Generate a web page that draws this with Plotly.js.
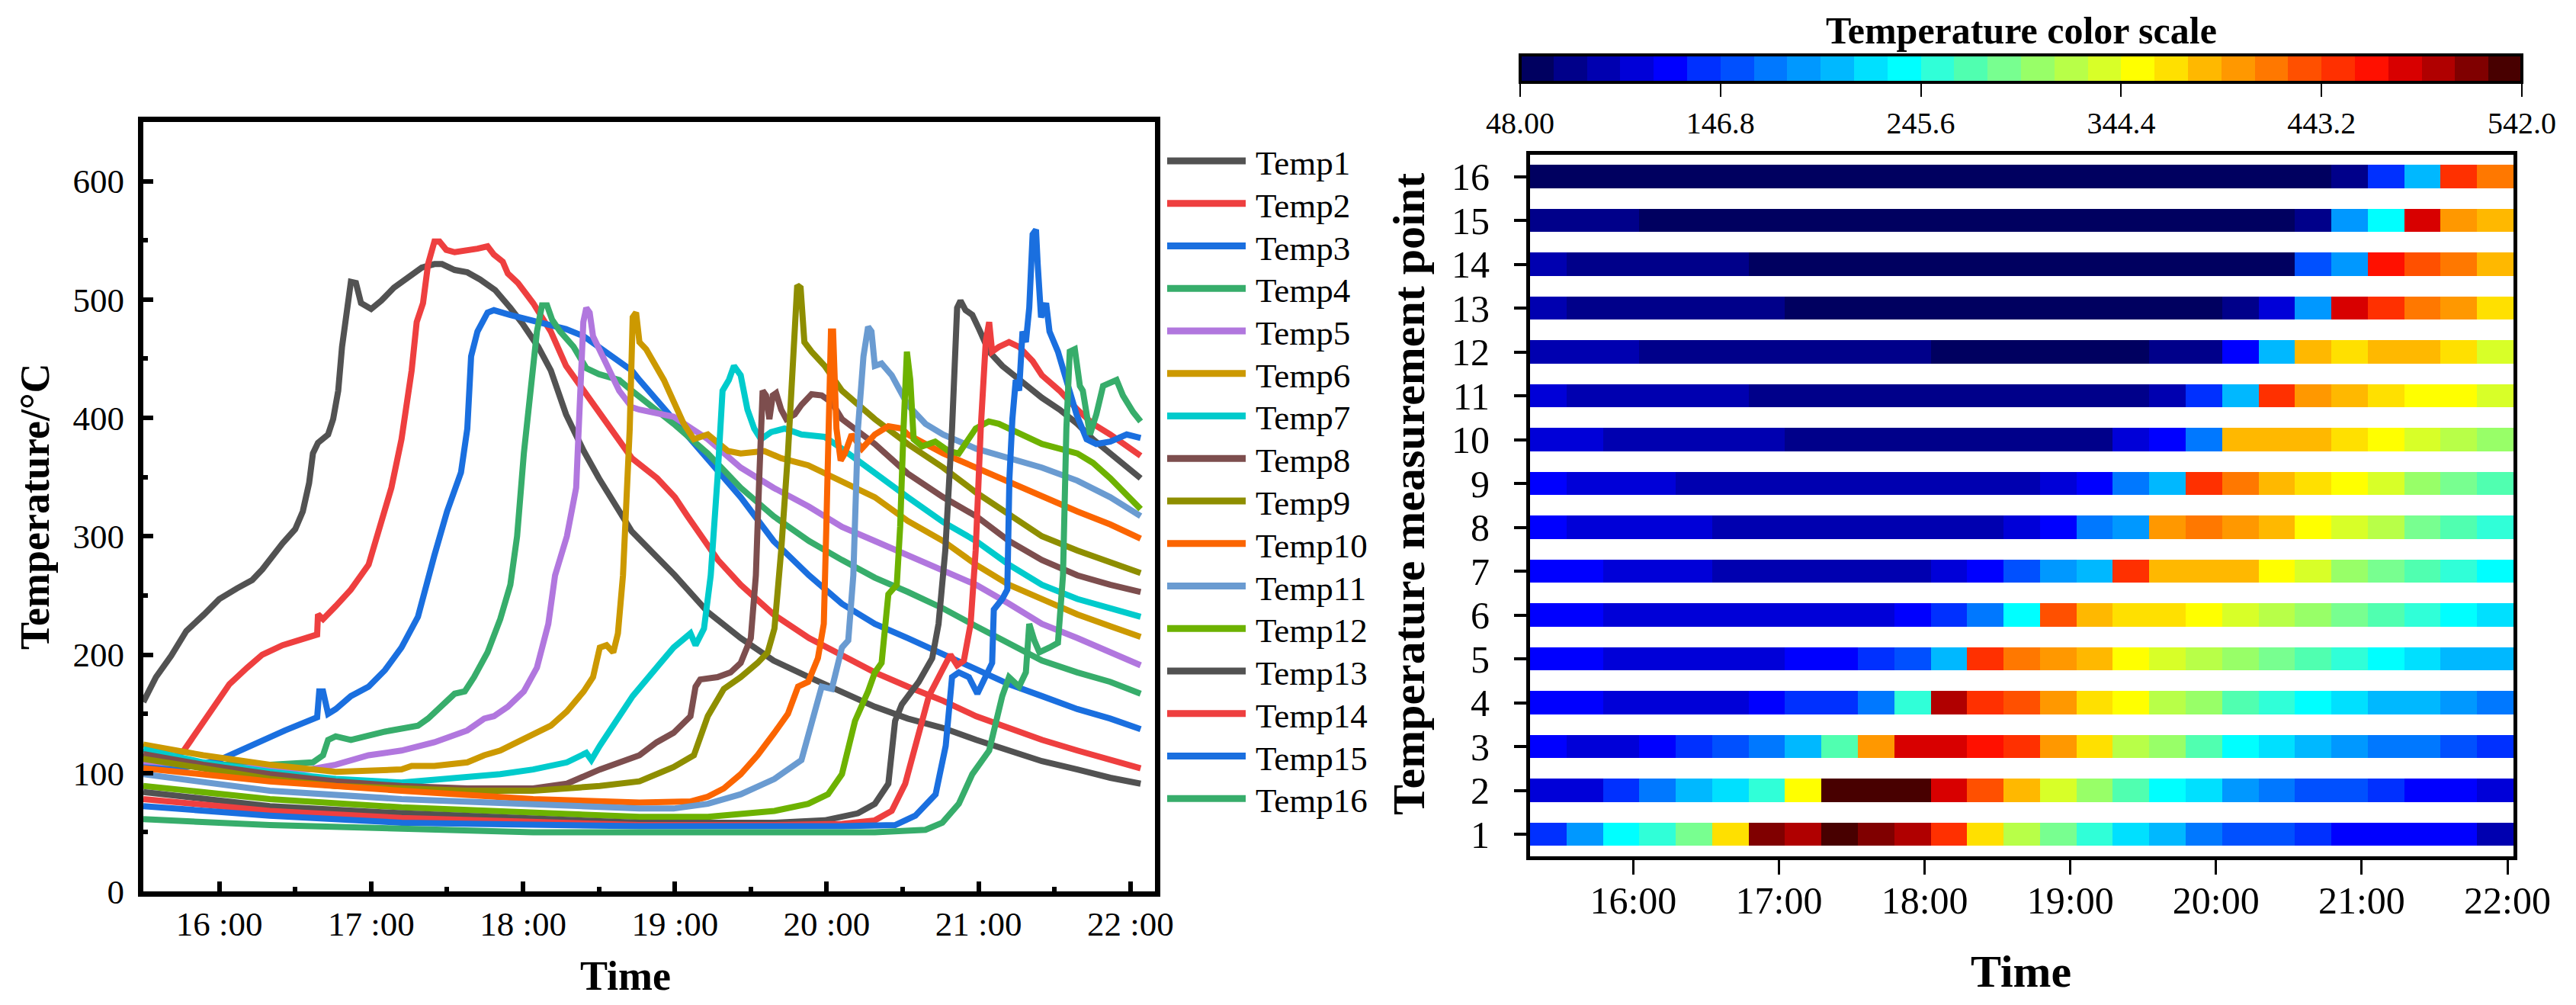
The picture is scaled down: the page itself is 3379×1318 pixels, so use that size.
<!DOCTYPE html>
<html>
<head>
<meta charset="utf-8">
<script src="https://cdn.plot.ly/plotly-3.0.1.min.js"></script>
<style>
html, body { margin: 0; padding: 0; background: #fff; }
#graph { width: 3379px; height: 1318px; }
</style>
</head>
<body>
<div id="graph"></div>
<script>
// ---- line chart data ----
const names = ['Temp1','Temp2','Temp3','Temp4','Temp5','Temp6','Temp7','Temp8',
               'Temp9','Temp10','Temp11','Temp12','Temp13','Temp14','Temp15','Temp16'];
const colors = ['#525252','#EE3F3F','#1A6FDF','#37AD6B','#B177DE','#CC9900','#00CBCC','#7D4E4E',
                '#8E8E00','#FB6501','#6A9BD1','#6DB200','#525252','#EE3F3F','#1A6FDF','#37AD6B'];

const t1 = ['15:30','15:35','15:41','15:47','15:54','16:00','16:07','16:13','16:17','16:21','16:25','16:30','16:33','16:35:30','16:37','16:39','16:43','16:45','16:47','16:48:30','16:50:30','16:52','16:54','16:56','17:00','17:04','17:09','17:15','17:20','17:25','17:28','17:33','17:38','17:43','17:49','17:55','18:00','18:06','18:11','18:17','18:24','18:30','18:38','18:43','19:00','19:13','19:26','19:39','19:53','20:06','20:19','20:32','20:46','20:59','21:12','21:25','21:39','21:52','22:04'];
const v1 = [160,181,199,220,234,247,256,263,272,284,294,306,321,345,370,379,386,399,423,460,495,515,514,497,492,499,510,520,527,530,530,525,523,517,508,493,479,460,440,403,372,349,321,304,267,236,214,195,181,169,156,146,138,128,119,110,103,96,91];

const t2 = ['15:30','15:40','15:46','15:51','15:58','16:04','16:11','16:17','16:25','16:33','16:38:40','16:39','16:41','16:46','16:52','16:59','17:04','17:08','17:12','17:16','17:18','17:20:30','17:22:30','17:25','17:27','17:29:40','17:33','17:38','17:42','17:46','17:48:30','17:52','17:54','17:58','18:04','18:11','18:17','18:24','18:33','18:43','18:53','19:00','19:05','19:17','19:26','19:39','19:53','20:06','20:19','20:32','20:46','20:59','21:12','21:25','21:39','21:52','22:04'];
const v2 = [100,108,119,134,156,175,189,200,208,214,217,234,230,241,255,276,312,341,382,440,481,497,530,549,549,542,540,541,543,545,538,532,522,514,497,473,444,423,395,366,349,333,317,280,259,234,214,200,185,173,161,148,138,128,119,111,104];

const t3 = ['15:30','15:45','16:00','16:13','16:26','16:38:40','16:39:30','16:41','16:43','16:46','16:52','16:59','17:05:30','17:12','17:18:30','17:25','17:30','17:35:30','17:38','17:39:30','17:42','17:46','17:48:30','17:55','18:04','18:17','18:24','18:30','18:37','18:43','18:46','18:59:30','19:13','19:26','19:39','19:53','20:06','20:19','20:32','20:46','20:59','21:12','21:25','21:39','21:52','22:04'];
const v3 = [105,104,111,124,136,147,169,169,150,154,165,173,187,206,232,284,321,354,391,452,473,489,491,487,482,475,469,460,450,440,432,399,366,333,296,267,243,226,214,200,187,175,165,154,146,137];

const t4 = ['15:30','16:00','16:20','16:37','16:41','16:43','16:46','16:52','17:05:30','17:18:30','17:22:30','17:27:40','17:33','17:37','17:40:40','17:46','17:51','17:55','17:57:40','18:00:20','18:03','18:05:30','18:07:30','18:09:30','18:11:30','18:14:40','18:20','18:25','18:30','18:38','18:43','18:59:30','19:13','19:26','19:39','19:53','20:06','20:19','20:32','20:46','20:59','21:12','21:25','21:39','21:52','22:04'];
const v4 = [112,107,107,109,115,128,131,128,135,140,146,156,167,169,181,202,230,259,300,370,419,473,495,495,483,473,460,442,437,432,423,395,370,341,317,296,280,265,253,239,224,210,195,185,177,167];

const t5 = ['15:30','16:00','16:35:30','16:46','16:59','17:12','17:25','17:38','17:44:40','17:48:30','17:54','18:00:20','18:05:30','18:10','18:12:40','18:17:20','18:21','18:22:30','18:23:50','18:25','18:26:20','18:27:40','18:33','18:38','18:43','18:46','18:59:30','19:13','19:26','19:39','19:53','20:06','20:19','20:32','20:46','20:59','21:12','21:25','21:39','21:52','22:04'];
const v5 = [110,105,103,107,115,119,126,136,146,148,156,169,189,226,267,300,341,432,481,493,489,469,444,423,409,407,401,382,358,341,325,308,296,284,271,259,243,226,214,202,191];

const t6 = ['15:30','15:53:40','16:20','16:46','17:12','17:16','17:25','17:38','17:44:40','17:51','17:57:40','18:04','18:11','18:17:20','18:24','18:27:40','18:30:20','18:33','18:35:40','18:37:30','18:39:30','18:40:50','18:42:10','18:43:20','18:44:40','18:46','18:48:40','18:55:40','18:59:30','19:03:30','19:07:30','19:13','19:21','19:26','19:35:20','19:42','19:52:40','20:06','20:19','20:32','20:46','20:59','21:12','21:25','21:39','21:52','22:04'];
const v6 = [124,115,107,101,103,106,106,109,115,119,126,132,140,152,169,181,206,208,202,218,267,329,391,485,489,464,458,432,413,395,382,386,372,370,372,366,360,347,333,313,296,276,259,247,234,224,215];

const t7 = ['15:30','15:53:40','16:20','16:46','17:12','17:38','17:51','18:04','18:17:20','18:25','18:27','18:30:20','18:37','18:43:20','18:54:20','18:59:30','19:06:10','19:08:10','19:11:30','19:14:10','19:16:50','19:18:50','19:21:20','19:23:20','19:26','19:28:40','19:31:20','19:34','19:38','19:43:20','19:50','19:59:10','20:06','20:19','20:32','20:46','20:59','21:12','21:25','21:39','21:52','22:04'];
const v7 = [120,109,101,95,92,96,99,103,109,117,111,123,144,165,193,206,218,208,222,267,349,423,432,444,436,407,391,382,388,391,386,384,374,353,333,312,296,276,259,247,239,232];

const t8 = ['15:30','15:53:40','16:20','16:46','17:12','17:38','18:04','18:17:20','18:30:20','18:46','18:52:50','18:59:30','19:06:10','19:08:10','19:10','19:16:50','19:22','19:26','19:30','19:32','19:33:20','19:34:40','19:36','19:37:20','19:38:40','19:40','19:42','19:44','19:47:20','19:50','19:54','19:58','20:02','20:06','20:19','20:32','20:46','20:59','21:12','21:25','21:39','21:52','22:04'];
const v8 = [116,107,99,93,89,87,87,91,103,115,126,134,148,173,179,181,185,193,214,267,349,423,419,399,419,421,407,399,403,411,420,419,413,399,378,353,333,317,296,280,267,259,253];

const t9 = ['15:30','15:53:40','16:20','16:46','17:12','17:38','18:04','18:30:20','18:46','18:59:30','19:07:30','19:13','19:19:20','19:26','19:32:40','19:36:40','19:39:20','19:42','19:44:40','19:47:20','19:48:20','19:49:40','19:51:10','19:54','19:59:10','20:06','20:19','20:32','20:46','20:59','21:12','21:25','21:39','21:52','22:04'];
const v9 = [112,104,95,89,87,85,85,89,93,105,115,148,171,181,193,202,222,288,370,473,512,510,464,456,444,423,399,378,358,337,319,300,288,278,269];

const t10 = ['15:30','16:20','17:12','18:04','18:46','19:06:10','19:13','19:19:20','19:26','19:32:40','19:39:20','19:44:40','19:48:40','19:52:40','19:56:30','19:58:50','19:59:50','20:00:50','20:01:40','20:02:30','20:03:50','20:05:30','20:07:10','20:09:50','20:13:50','20:19','20:24:20','20:29:40','20:32','20:46','20:59','21:12','21:25','21:39','21:52','22:04'];
const v10 = [104,93,85,78,75,76,80,87,99,115,134,150,173,177,197,226,308,411,473,473,391,364,370,386,374,386,393,391,386,370,358,345,333,321,310,298];

const t11 = ['15:30','16:20','17:12','18:04','18:46','18:59:30','19:13','19:26','19:39:20','19:50','19:54','19:58','20:02','20:06','20:08:30','20:10:30','20:12:20','20:14:30','20:16:20','20:17:40','20:19','20:21:40','20:25:40','20:29:40','20:32','20:39','20:46','20:59','21:12','21:25','21:39','21:52','22:04'];
const v11 = [99,85,78,73,70,70,74,82,95,111,140,173,171,206,212,267,391,452,477,473,444,446,436,419,411,395,386,374,366,358,347,333,317];

const t12 = ['15:30','16:20','17:12','18:04','18:46','19:13','19:26','19:39:20','19:52:40','20:00:30','20:06','20:11:10','20:16:20','20:19','20:21:40','20:24:20','20:27:40','20:29','20:30:20','20:31:40','20:33','20:34:20','20:37:40','20:42:50','20:48:10','20:52:10','20:58:50','21:04','21:08','21:12','21:25','21:39','21:45:10','21:52','22:04'];
const v12 = [89,78,71,66,63,63,65,68,74,82,99,144,169,185,193,251,259,308,391,456,432,382,376,380,372,370,391,397,395,391,378,370,362,349,323];

const t13 = ['15:30','16:20','17:12','18:04','18:46','19:39:20','19:59:10','20:12:20','20:19','20:24:20','20:27','20:29:40','20:36:20','20:41:40','20:44:10','20:46:50','20:49:30','20:51:30','20:52:50','20:54:50','20:57:30','21:00:10','21:04:10','21:09:20','21:18:40','21:25','21:32','21:39','21:45:10','21:52','22:04'];
const v13 = [84,72,66,62,58,58,60,66,74,91,144,158,177,197,226,288,391,493,499,491,487,475,456,444,427,417,407,395,382,370,349];

const t14 = ['15:30','16:20','17:12','18:04','18:46','19:39:20','20:06','20:19','20:25:40','20:31','20:36:20','20:40:20','20:45:40','20:48:50','20:51:30','20:54:10','20:56:50','20:58:50','21:00:50','21:02:50','21:04:10','21:05:20','21:08','21:12','21:16','21:21:20','21:25','21:32','21:39','21:45:10','21:52','22:04'];
const v14 = [78,68,62,58,56,56,57,60,68,91,136,165,187,200,191,195,226,288,391,465,481,456,460,464,460,448,436,423,407,395,386,368];

const t15 = ['15:30','16:20','17:12','18:04','18:46','20:06','20:27','20:35','20:43','20:47','20:49:30','20:52:10','20:56:10','20:59:30','21:03','21:05:20','21:06','21:09:20','21:11:20','21:12:10','21:13:20','21:14:40','21:16','21:17:20','21:18:40','21:20','21:21:20','21:22:40','21:23:20','21:24:40','21:26:40','21:28','21:31:20','21:34:40','21:38:40','21:42:40','21:46:30','21:52','21:58:30','22:04'];
const v15 = [72,64,58,56,55,55,56,64,82,123,181,185,181,167,181,193,238,247,255,349,399,432,423,473,464,493,555,559,530,485,497,473,456,432,403,382,378,380,386,383];

const t16 = ['15:30','16:20','17:12','18:04','18:46','20:19','20:39','20:45:40','20:52:10','20:57:30','21:04:10','21:06:50','21:09:20','21:12','21:16','21:18:40','21:20','21:22','21:24','21:28','21:31:20','21:33:20','21:34:40','21:36','21:38','21:40','21:41:10','21:44','21:46:30','21:49:10','21:52','21:54:30','21:57','22:01','22:04'];
const v16 = [61,56,53,50,50,50,52,58,74,99,119,144,165,181,173,185,226,212,202,206,210,267,391,456,458,427,423,386,403,427,429,432,419,405,397];

// ---- heatmap data: temperature per 15 min block, rows = measurement points ----
const heatTimes = ['15:25','15:40','15:55','16:10','16:25','16:40','16:55','17:10','17:25','17:40','17:55','18:10','18:25','18:40','18:55','19:10','19:25','19:40','19:55','20:10','20:25','20:40','20:55','21:10','21:25','21:40','21:55'];
const points = [1,2,3,4,5,6,7,8,9,10,11,12,13,14,15,16];
const row1  = [139,188,237,254,287,369,518,501,534,518,501,452,369,320,287,254,221,204,171,155,155,139,122,122,122,122,89];
const row2  = [106,106,139,171,204,221,254,353,534,534,534,485,435,386,336,303,270,237,221,188,171,155,155,139,122,122,106];
const row3  = [122,106,106,122,139,155,171,204,270,402,485,485,468,452,402,369,320,303,270,237,221,204,188,171,171,155,139];
const row4  = [122,122,106,106,106,106,122,139,139,171,254,501,452,435,402,369,353,320,303,270,254,237,221,204,204,188,171];
const row5  = [122,122,106,106,106,106,106,122,122,139,155,204,452,419,402,386,353,336,320,303,287,270,254,237,221,204,204];
const row6  = [122,122,106,106,106,106,106,106,106,106,122,139,171,237,435,386,369,369,353,336,320,303,287,270,254,237,221];
const row7  = [122,122,106,106,106,89,89,89,89,89,89,106,122,155,188,204,452,386,386,386,353,336,303,287,270,254,237];
const row8  = [122,106,106,106,106,89,89,89,89,89,89,89,89,106,122,171,188,402,419,402,386,353,336,320,287,270,254];
const row9  = [122,106,106,106,89,89,89,89,89,89,89,89,89,89,106,122,171,204,452,419,386,369,353,336,303,287,270];
const row10 = [106,106,89,89,89,89,89,73,73,73,73,73,73,73,73,73,106,122,171,386,386,386,369,353,336,320,303];
const row11 = [106,89,89,89,89,89,73,73,73,73,73,73,73,73,73,73,73,89,139,204,452,402,386,369,353,353,336];
const row12 = [89,89,89,73,73,73,73,73,73,73,73,56,56,56,56,56,56,73,73,122,204,386,369,386,386,369,336];
const row13 = [89,73,73,73,73,73,73,56,56,56,56,56,56,56,56,56,56,56,56,73,106,188,485,452,419,402,369];
const row14 = [89,73,73,73,73,73,56,56,56,56,56,56,56,56,56,56,56,56,56,56,56,155,188,468,435,419,386];
const row15 = [73,73,73,56,56,56,56,56,56,56,56,56,56,56,56,56,56,56,56,56,56,73,188,237,485,402,386];
const row16 = [56,56,56,56,56,56,56,56,56,56,56,56,56,56,56,56,56,56,56,56,56,56,73,139,204,452,419];

const scaleColors = ['#000060','#00008A','#0000B0','#0000D8','#0000FF','#0030FF','#0050FF','#0078FF','#0098FF','#00B8FF',
                     '#00E0FF','#00FFFF','#30FFD8','#50FFB0','#78FF90','#98FF68','#B8FF48','#D8FF28','#FFFF00','#FFE000',
                     '#FFB800','#FF9800','#FF7800','#FF5000','#FF3000','#FF1000','#D80000','#B00000','#800000','#480000'];
const scaleTicks = [48, 146.8, 245.6, 344.4, 443.2, 542];
const scaleTickText = ['48.00','146.8','245.6','344.4','443.2','542.0'];

// ---- build figure ----
const W = 3379, H = 1318;
const PX = x => x / W;
const PY = y => 1 - y / H;
const day = '2020-01-01 ';
const serif = '"Liberation Serif", "Times New Roman", serif';

const times = [t1,t2,t3,t4,t5,t6,t7,t8,t9,t10,t11,t12,t13,t14,t15,t16];
const values = [v1,v2,v3,v4,v5,v6,v7,v8,v9,v10,v11,v12,v13,v14,v15,v16];

const traces = names.map((n, i) => ({
    type: 'scatter',
    mode: 'lines',
    name: n,
    x: times[i].map(s => day + s),
    y: values[i],
    line: { color: colors[i], width: 8 },
    xaxis: 'x',
    yaxis: 'y',
    showlegend: false
}));

const colorscale = scaleColors.flatMap((c, i) => [[i / 30, c], [(i + 1) / 30, c]]);

traces.push({
    type: 'heatmap',
    x: heatTimes.map(s => day + s),
    y: points,
    z: [row1,row2,row3,row4,row5,row6,row7,row8,row9,row10,row11,row12,row13,row14,row15,row16],
    zmin: 48,
    zmax: 542,
    colorscale: colorscale,
    ygap: 27,
    xaxis: 'x2',
    yaxis: 'y2',
    colorbar: {
        orientation: 'h',
        x: PX(2651), xanchor: 'center',
        y: PY(72), yanchor: 'top',
        len: 1314, lenmode: 'pixels',
        thickness: 36, thicknessmode: 'pixels',
        xpad: 0, ypad: 0,
        outlinewidth: 4, outlinecolor: '#000',
        tickvals: scaleTicks, ticktext: scaleTickText,
        ticks: 'outside', ticklen: 17, tickwidth: 2, tickcolor: '#000',
        tickfont: { family: serif, size: 40, color: '#000' }
    }
});

// legend drawn by hand so the line samples can be long
const shapes = [];
const annotations = [];
names.forEach((n, i) => {
    const yc = 211 + 55.75 * i;
    shapes.push({
        type: 'line', xref: 'paper', yref: 'paper',
        x0: PX(1531), x1: PX(1634), y0: PY(yc), y1: PY(yc),
        line: { color: colors[i], width: 9 }
    });
    annotations.push({
        xref: 'paper', yref: 'paper', x: PX(1645), y: PY(yc + 3),
        xanchor: 'left', yanchor: 'middle', showarrow: false,
        text: n, font: { family: serif, size: 45, color: '#000' }
    });
});

const bold = size => ({ family: serif, size: size, color: '#000', weight: 'bold' });
annotations.push(
    { xref: 'paper', yref: 'paper', x: PX(46), y: PY(664), textangle: -90,
      xanchor: 'center', yanchor: 'middle', showarrow: false, text: 'Temperature/°C', font: bold(54) },
    { xref: 'paper', yref: 'paper', x: PX(820), y: PY(1280),
      xanchor: 'center', yanchor: 'middle', showarrow: false, text: 'Time', font: bold(54) },
    { xref: 'paper', yref: 'paper', x: PX(1848), y: PY(648), textangle: -90,
      xanchor: 'center', yanchor: 'middle', showarrow: false, text: 'Temperature measurement point', font: bold(60) },
    { xref: 'paper', yref: 'paper', x: PX(2651), y: PY(1274),
      xanchor: 'center', yanchor: 'middle', showarrow: false, text: 'Time', font: bold(60) },
    { xref: 'paper', yref: 'paper', x: PX(2651), y: PY(40),
      xanchor: 'center', yanchor: 'middle', showarrow: false, text: 'Temperature color scale', font: bold(50) }
);

const axisBase = {
    showline: true, linecolor: '#000', mirror: true,
    showgrid: false, zeroline: false, tickcolor: '#000'
};

const layout = {
    width: W, height: H,
    margin: { l: 0, r: 0, t: 0, b: 0 },
    paper_bgcolor: '#fff', plot_bgcolor: '#fff',
    font: { family: serif, color: '#000' },
    showlegend: false,
    xaxis: Object.assign({}, axisBase, {
        domain: [PX(188), PX(1515)],
        type: 'date',
        range: [day + '15:30', day + '22:09:40'],
        tick0: day + '16:00', dtick: 3600000, tickformat: '%H :%M',
        ticks: 'inside', ticklen: 13, tickwidth: 6, linewidth: 7,
        minor: { dtick: 1800000, tick0: day + '15:30', ticks: 'inside', ticklen: 6, tickwidth: 6, tickcolor: '#000' },
        tickfont: { family: serif, size: 45, color: '#000' },
        ticklabelstandoff: -3
    }),
    yaxis: Object.assign({}, axisBase, {
        domain: [PY(1169), PY(160)],
        range: [0, 650], tick0: 0, dtick: 100,
        ticks: 'inside', ticklen: 13, tickwidth: 6, linewidth: 7,
        minor: { dtick: 50, ticks: 'inside', ticklen: 6, tickwidth: 6, tickcolor: '#000' },
        tickfont: { family: serif, size: 45, color: '#000' },
        ticklabelstandoff: 9
    }),
    xaxis2: Object.assign({}, axisBase, {
        domain: [PX(2007), PX(3297)], anchor: 'y2',
        type: 'date',
        range: [day + '15:17:30', day + '22:02:30'],
        tick0: day + '16:00', dtick: 3600000, tickformat: '%H:%M',
        ticks: 'outside', ticklen: 19, tickwidth: 3, linewidth: 5,
        tickfont: { family: serif, size: 50, color: '#000' },
        ticklabelstandoff: -9
    }),
    yaxis2: Object.assign({}, axisBase, {
        domain: [PY(1123), PY(203)], anchor: 'x2',
        range: [0.5, 16.5], tickvals: points,
        ticks: 'outside', ticklen: 16, tickwidth: 4, linewidth: 5,
        tickfont: { family: serif, size: 50, color: '#000' },
        ticklabelstandoff: 22
    }),
    shapes: shapes,
    annotations: annotations
};

Plotly.newPlot('graph', traces, layout, { staticPlot: true });
</script>
</body>
</html>
